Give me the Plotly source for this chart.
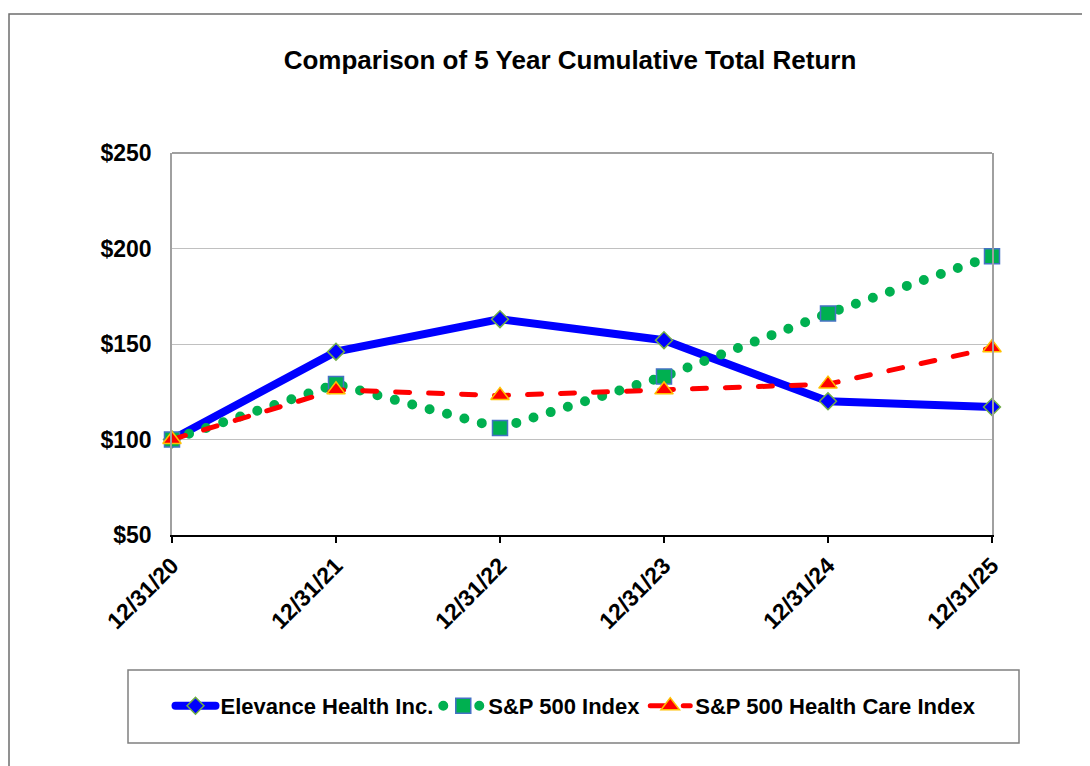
import plotly.graph_objects as go

dates = ["12/31/20", "12/31/21", "12/31/22", "12/31/23", "12/31/24", "12/31/25"]
elevance = [100, 146, 163, 152, 120, 117]
sp500 = [100, 129, 106, 133, 166, 196]
sp500_hc = [100, 126, 123, 126, 129, 148]
y_ticks = [50, 100, 150, 200, 250]
y_labels = ["$50", "$100", "$150", "$200", "$250"]

FONT = "Liberation Sans, Arial, sans-serif"
xpos = list(range(len(dates)))

fig = go.Figure()
fig.add_trace(go.Scatter(
    x=xpos, y=elevance, name="Elevance Health Inc.", mode="lines+markers",
    line=dict(color="#0000FF", width=8),
    marker=dict(symbol="diamond", size=13, color="#0000FF", line=dict(color="#70AD47", width=1.5)),
    cliponaxis=False))
fig.add_trace(go.Scatter(
    x=xpos, y=sp500, name="S&P 500 Index", mode="lines+markers",
    line=dict(color="#00B050", width=10, dash="0px,18px"),
    marker=dict(symbol="square", size=15, color="#00B050", line=dict(color="#4472C4", width=1.5)),
    cliponaxis=False))
fig.add_trace(go.Scatter(
    x=xpos, y=sp500_hc, name="S&P 500 Health Care Index", mode="lines+markers",
    line=dict(color="#FF0000", width=5, dash="14px,19px"),
    marker=dict(symbol="triangle-up", size=16, color="#FF0000", line=dict(color="#FFC000", width=1.5)),
    cliponaxis=False))

OFF = 8  # page body offset
W, H = 1090, 766
PL, PR, PT, PB = 172, 992, 153, 535  # plot area in page pixels
L = PL - OFF
T = PT - OFF
R = OFF + W - PR
B = OFF + H - PB
pw, ph = PR - PL, PB - PT
def px(x): return (x - PL) / pw
def py(y): return (PB - y) / ph

shapes = [
    dict(type="rect", xref="paper", yref="paper", x0=px(9), x1=px(1300), y0=py(14), y1=py(1000),
         line=dict(color="#6E6E6E", width=1.5), fillcolor="rgba(0,0,0,0)", layer="below"),
    dict(type="rect", xref="paper", yref="paper", x0=px(128), x1=px(1019), y0=py(670), y1=py(743),
         line=dict(color="#808080", width=1.5), fillcolor="rgba(0,0,0,0)"),
    dict(type="line", xref="paper", yref="paper", x0=0, x1=1, y0=1, y1=1,
         line=dict(color="#808080", width=1.5)),
]

fig.update_layout(
    width=W, height=H,
    margin=dict(l=L, r=R, t=T, b=B),
    paper_bgcolor="white", plot_bgcolor="white",
    font=dict(family=FONT, color="black"),
    title=dict(text="<b>Comparison of 5 Year Cumulative Total Return</b>",
               x=(570 - OFF) / W, xanchor="center", y=1 - (60 - OFF) / H, yanchor="middle",
               font=dict(size=26, family=FONT, color="black")),
    showlegend=True,
    legend=dict(orientation="h", x=px(576), xanchor="center", y=py(706), yanchor="middle",
                font=dict(size=22, family=FONT, color="black", weight="bold"),
                bgcolor="rgba(0,0,0,0)", borderwidth=0, itemwidth=40, tracegroupgap=0),
    shapes=shapes,
)
fig.update_xaxes(
    range=[0, 5], tickmode="array", tickvals=xpos, ticktext=dates, tickangle=-45,
    tickfont=dict(size=23, family=FONT, color="black", weight="bold"),
    showline=True, linecolor="black", linewidth=2, ticks="outside", ticklen=6,
    tickcolor="black", tickwidth=2, showgrid=False, zeroline=False)
fig.update_yaxes(
    range=[50, 250], tickmode="array", tickvals=y_ticks, ticktext=y_labels,
    tickfont=dict(size=23, family=FONT, color="black", weight="bold"),
    showline=True, linecolor="#A0A0A0", linewidth=1.5, mirror=True,
    showgrid=True, gridcolor="#C0C0C0", gridwidth=1, zeroline=False,
    ticks="", ticklabelstandoff=14)

post = """
var gd = document.getElementsByClassName('plotly-graph-div')[0];
function caps(){
  document.querySelectorAll('path.js-line').forEach(function(p){
    p.style.strokeLinecap='round';
  });
}
caps();
gd.on('plotly_afterplot', caps);
"""
fig.write_html("out.html", post_script=post)
